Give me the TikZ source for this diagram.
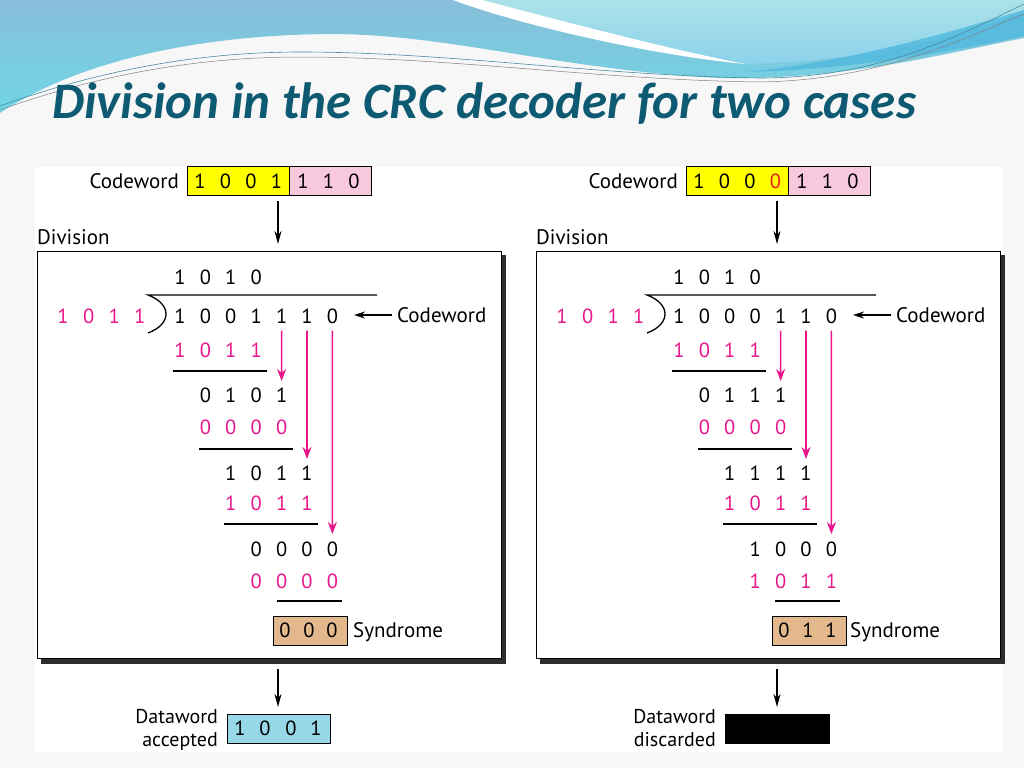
\documentclass[tikz,border=0pt]{standalone}
\usepackage{fontspec}
\setmainfont{PT Sans}
\newfontfamily\titlefont{Carlito}
\usetikzlibrary{arrows.meta}
\definecolor{crcpink}{RGB}{233,22,139}
\definecolor{crcred}{RGB}{232,30,30}
\definecolor{cwyellow}{RGB}{255,255,0}
\definecolor{cwpink}{RGB}{248,200,220}
\definecolor{syntan}{RGB}{226,184,140}
\definecolor{dwblue}{RGB}{150,215,232}
\definecolor{titleblue}{RGB}{14,90,115}
\definecolor{pagebg}{RGB}{247,247,247}
\definecolor{shadowcol}{RGB}{45,45,45}
\definecolor{waveA}{RGB}{136,190,218}
\definecolor{waveB}{RGB}{112,214,228}
\definecolor{waveC}{RGB}{172,226,232}
\definecolor{waveD}{RGB}{140,210,236}
\definecolor{waveE}{RGB}{80,185,222}
\definecolor{thinline}{RGB}{70,140,160}
\newcommand\digrow[6]{%
  \foreach \dd [count=\ii from 0] in {#6}{%
    \node[dig,text=#5] (#1-\ii) at ({#2+#3*\ii},#4) {\dd};}}
\tikzset{
  dig/.style={font=\fontsize{20.5}{20.5}\selectfont, inner sep=0pt},
  lbl/.style={font=\fontsize{21}{24}\selectfont, inner sep=0pt},
  blbl/.style={font=\fontsize{20}{22}\selectfont, inner sep=0pt},
  cwbox/.style={draw=black, line width=1pt, inner sep=0pt, minimum height=29pt},
  divbox/.style={draw=black, line width=1pt, fill=white, inner sep=0pt},
  bar/.style={line width=1.3pt},
  parr/.style={draw=crcpink, line width=1.6pt, -{Stealth[length=12pt,width=9pt]}},
  barr/.style={line width=1.6pt, -{Stealth[length=13pt,width=7pt]}},
}
\begin{document}
\begin{tikzpicture}[x=1pt,y=-1pt]
\useasboundingbox (0,0) rectangle (1024,768);
% page background
\fill[pagebg] (0,0) rectangle (1024,768);
% waves
\shade[top color=waveA, bottom color=waveB] (0,0) -- (1024,0) -- (1024,38)
  .. controls (950,52) and (850,80) .. (720,78)
  .. controls (560,70) and (450,34) .. (330,34)
  .. controls (200,35) and (80,60) .. (0,113) -- cycle;
\shade[top color=waveC, bottom color=waveD] (470,0) -- (1024,0) -- (1024,12)
  .. controls (950,40) and (860,62) .. (745,64)
  .. controls (650,45) and (540,15) .. (470,0) -- cycle;
\fill[white] (453,0) .. controls (520,25) and (650,55) .. (745,64)
  .. controls (650,45) and (540,15) .. (482,0) -- cycle;
\fill[waveE, opacity=0.8] (745,72) .. controls (850,62) and (950,32) .. (1024,10)
  -- (1024,36) .. controls (950,52) and (850,70) .. (745,72) -- cycle;
\draw[thinline, line width=0.6pt] (0,106) .. controls (100,70) and (200,52) .. (300,52)
  .. controls (450,52) and (600,76) .. (760,78) .. controls (880,78) and (960,35) .. (1024,4);
\draw[gray, line width=0.5pt] (0,110) .. controls (100,74) and (200,57) .. (300,57)
  .. controls (450,57) and (600,80) .. (760,82) .. controls (880,80) and (960,40) .. (1024,14);
% title
\node[anchor=base west, inner sep=0pt, text=titleblue,
  font=\titlefont\bfseries\itshape\fontsize{51}{51}\selectfont] (title) at (52,118)
  {Division in the CRC decoder for two cases};
% diagram area
\fill[white] (35,167) rectangle (1003,752);

% ---------------- left panel ----------------
\begin{scope}
\node[cwbox, fill=cwyellow, minimum width=102pt, anchor=north west] (L-cwa) at (187,166) {};
\node[cwbox, fill=cwpink, minimum width=82pt, anchor=north west] (L-cwb) at (289,166) {};
\node[lbl, anchor=east] (L-cwl) at (179,181) {Codeword};
\digrow{L-cwd}{200}{25.5}{181}{black}{1,0,0,1}
\digrow{L-cwp}{303}{25.5}{181}{black}{1,1,0}
\coordinate (L-a1) at (278,201);
\coordinate (L-a2) at (278,244);
\draw[barr] (L-a1) -- (L-a2);
\node[lbl, anchor=west] (L-div) at (37,237) {Division};
\fill[shadowcol] (41,255) rectangle (506,664);
\node[divbox, minimum width=464pt, minimum height=407pt, anchor=north west] (L-box) at (37,251) {};
% division
\digrow{L-q}{180}{25.4}{277}{black}{1,0,1,0}
\digrow{L-dv}{63}{25.6}{316}{crcpink}{1,0,1,1}
\digrow{L-dd}{180}{25.4}{316}{black}{1,0,0,1,1,1,0}
\coordinate (L-b0) at (377,295);
\coordinate (L-b1) at (148,295);
\coordinate (L-b2) at (148,333);
\draw[bar] (L-b0) -- (L-b1) .. controls (172,304) and (172,324) .. (L-b2);
\node[lbl, anchor=west] (L-cwt) at (397,315) {Codeword};
\coordinate (L-ca) at (392,315);
\coordinate (L-cb) at (354,315);
\draw[line width=1.3pt, -{Stealth[length=11pt,width=7pt]}] (L-ca) -- (L-cb);
\digrow{L-r1}{180}{25.4}{350}{crcpink}{1,0,1,1}
\draw[bar] (173,371) -- (267,371);
\digrow{L-r2}{205.4}{25.4}{395}{black}{0,1,0,1}
\digrow{L-r3}{205.4}{25.4}{427}{crcpink}{0,0,0,0}
\draw[bar] (199,449) -- (293,449);
\digrow{L-r4}{230.8}{25.4}{473}{black}{1,0,1,1}
\digrow{L-r5}{230.8}{25.4}{503}{crcpink}{1,0,1,1}
\draw[bar] (224,524) -- (318,524);
\digrow{L-r6}{256.2}{25.4}{549}{black}{0,0,0,0}
\digrow{L-r7}{256.2}{25.4}{581}{crcpink}{0,0,0,0}
\draw[bar] (277,601) -- (342,601);
% pink arrows
\coordinate (L-p1) at (281.6,381);
\coordinate (L-p2) at (307,459);
\coordinate (L-p3) at (332.4,534);
\draw[parr] (L-dd-4.south) ++(0,7) -- (L-p1);
\draw[parr] (L-dd-5.south) ++(0,7) -- (L-p2);
\draw[parr] (L-dd-6.south) ++(0,7) -- (L-p3);
% syndrome
\node[cwbox, fill=syntan, minimum width=74pt, anchor=north west] (L-syn) at (273,616) {};
\node[dig] (L-s0) at (285,630) {0};
\node[dig] (L-s1) at (309,630) {0};
\node[dig] (L-s2) at (332,630) {0};
\node[lbl, anchor=base west] (L-synl) at (353,637) {Syndrome};
% bottom
\coordinate (L-d1) at (278,669);
\coordinate (L-d2) at (278,707);
\draw[barr] (L-d1) -- (L-d2);
\node[cwbox, fill=dwblue, minimum width=103pt, anchor=north west] (L-dw) at (227,714) {};
\node[dig] (L-w0) at (240,728.5) {1};
\node[dig] (L-w1) at (265,728.5) {0};
\node[dig] (L-w2) at (291,728.5) {0};
\node[dig] (L-w3) at (316,728.5) {1};
\node[blbl, anchor=base east] (L-dwl1) at (218,723) {Dataword};
\node[blbl, anchor=base east] (L-dwl2) at (218,746) {accepted};
\end{scope}

% ---------------- right panel ----------------
\begin{scope}[xshift=499pt]
\node[cwbox, fill=cwyellow, minimum width=102pt, anchor=north west] (R-cwa) at (187,166) {};
\node[cwbox, fill=cwpink, minimum width=82pt, anchor=north west] (R-cwb) at (289,166) {};
\node[lbl, anchor=east] (R-cwl) at (179,181) {Codeword};
\digrow{R-cwd}{200}{25.5}{181}{black}{1,0,0}
\node[dig, text=crcred] (R-cwe) at (276.5,181) {0};
\digrow{R-cwp}{303}{25.5}{181}{black}{1,1,0}
\coordinate (R-a1) at (278,201);
\coordinate (R-a2) at (278,244);
\draw[barr] (R-a1) -- (R-a2);
\node[lbl, anchor=west] (R-div) at (37,237) {Division};
\fill[shadowcol] (41,255) rectangle (506,664);
\node[divbox, minimum width=464pt, minimum height=407pt, anchor=north west] (R-box) at (37,251) {};
\digrow{R-q}{180}{25.4}{277}{black}{1,0,1,0}
\digrow{R-dv}{63}{25.6}{316}{crcpink}{1,0,1,1}
\digrow{R-dd}{180}{25.4}{316}{black}{1,0,0,0,1,1,0}
\coordinate (R-b0) at (377,295);
\coordinate (R-b1) at (148,295);
\coordinate (R-b2) at (148,333);
\draw[bar] (R-b0) -- (R-b1) .. controls (172,304) and (172,324) .. (R-b2);
\node[lbl, anchor=west] (R-cwt) at (397,315) {Codeword};
\coordinate (R-ca) at (392,315);
\coordinate (R-cb) at (354,315);
\draw[line width=1.3pt, -{Stealth[length=11pt,width=7pt]}] (R-ca) -- (R-cb);
\digrow{R-r1}{180}{25.4}{350}{crcpink}{1,0,1,1}
\draw[bar] (173,371) -- (267,371);
\digrow{R-r2}{205.4}{25.4}{395}{black}{0,1,1,1}
\digrow{R-r3}{205.4}{25.4}{427}{crcpink}{0,0,0,0}
\draw[bar] (199,449) -- (293,449);
\digrow{R-r4}{230.8}{25.4}{473}{black}{1,1,1,1}
\digrow{R-r5}{230.8}{25.4}{503}{crcpink}{1,0,1,1}
\draw[bar] (224,524) -- (318,524);
\digrow{R-r6}{256.2}{25.4}{549}{black}{1,0,0,0}
\digrow{R-r7}{256.2}{25.4}{581}{crcpink}{1,0,1,1}
\draw[bar] (276,601) -- (341,601);
\coordinate (R-p1) at (281.6,381);
\coordinate (R-p2) at (307,459);
\coordinate (R-p3) at (332.4,534);
\draw[parr] (R-dd-4.south) ++(0,7) -- (R-p1);
\draw[parr] (R-dd-5.south) ++(0,7) -- (R-p2);
\draw[parr] (R-dd-6.south) ++(0,7) -- (R-p3);
\node[cwbox, fill=syntan, minimum width=74pt, anchor=north west] (R-syn) at (273,616) {};
\node[dig] (R-s0) at (285,630) {0};
\node[dig] (R-s1) at (309,630) {1};
\node[dig] (R-s2) at (332,630) {1};
\node[lbl, anchor=base west] (R-synl) at (351,637) {Syndrome};
\coordinate (R-d1) at (278,669);
\coordinate (R-d2) at (278,707);
\draw[barr] (R-d1) -- (R-d2);
\node[draw=black, fill=black, line width=1pt, inner sep=0pt, minimum width=104pt, minimum height=29pt, anchor=north west] (R-dw) at (226,714) {};
\node[blbl, anchor=base east] (R-dwl1) at (217,723) {Dataword};
\node[blbl, anchor=base east] (R-dwl2) at (217,746) {discarded};
\end{scope}
\end{tikzpicture}
\end{document}
